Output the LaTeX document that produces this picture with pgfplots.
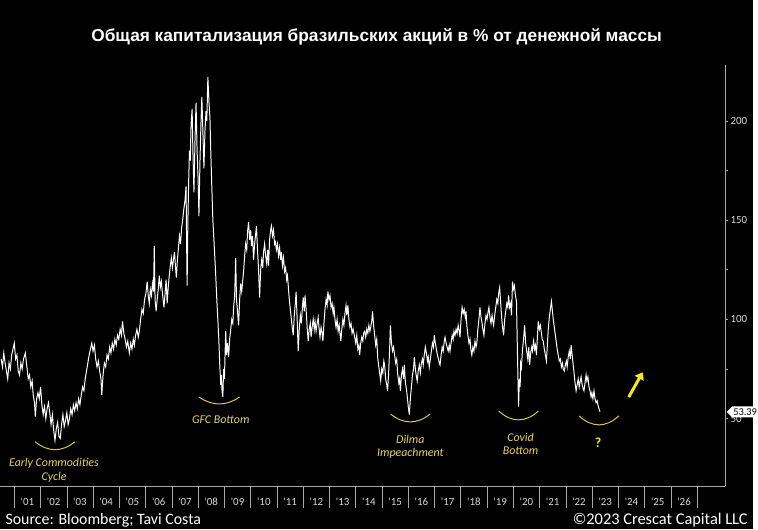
\documentclass[border=0pt]{standalone}
\usepackage{pgfplots}
\pgfplotsset{compat=1.18}
\usepackage{fontspec}
\setmainfont{Carlito}
\newfontfamily\titlefont{Liberation Sans}
\usetikzlibrary{shapes.symbols,arrows.meta}
\definecolor{annot}{HTML}{E3D46A}
\definecolor{arcc}{HTML}{D9C84A}
\definecolor{brightY}{HTML}{F7E81E}
\definecolor{axgray}{HTML}{A8A8A8}
\definecolor{ticklab}{HTML}{D8D8D8}
\begin{document}
\begin{tikzpicture}
\fill[black] (0pt,0pt) rectangle (758pt,533pt);
\begin{axis}[
  at={(0pt,43pt)}, anchor=south west, scale only axis,
  width=730pt, height=425pt,
  xmin=2000.471, xmax=2028.06, ymin=15.85, ymax=228.35,
  axis x line*=bottom, axis y line*=right,
  axis line style={axgray, line width=0.8pt},
  tick align=outside,
  major tick length=3pt,
  minor tick length=22pt,
  /pgf/number format/assume math mode=true,
  xtick={2001.5,2002.5,...,2026.5},
  xticklabels={\textquotesingle01,\textquotesingle02,\textquotesingle03,\textquotesingle04,\textquotesingle05,\textquotesingle06,\textquotesingle07,\textquotesingle08,\textquotesingle09,\textquotesingle10,\textquotesingle11,\textquotesingle12,\textquotesingle13,\textquotesingle14,\textquotesingle15,\textquotesingle16,\textquotesingle17,\textquotesingle18,\textquotesingle19,\textquotesingle20,\textquotesingle21,\textquotesingle22,\textquotesingle23,\textquotesingle24,\textquotesingle25,\textquotesingle26},
  major x tick style={draw=none},
  minor xtick={2001,2002,...,2027},
  minor x tick style={draw=axgray, line width=0.6pt},
  ytick={50,100,150,200},
  minor ytick={},
  extra y ticks={75,125,175},
  extra y tick labels={},
  y tick style={draw=axgray, line width=0.6pt},
  xticklabel style={font=\fontsize{11}{12}\selectfont, text=ticklab, yshift=-8pt, inner sep=1pt},
  yticklabel style={font=\fontsize{11}{12}\selectfont, text=ticklab, xshift=-1pt},
  clip=false,
]
\addplot[white, line width=1pt] coordinates {
(2000.50,80)(2000.55,76)(2000.60,83)(2000.65,78)(2000.70,74)(2000.75,70)(2000.80,78)(2000.85,75)(2000.90,82)(2000.95,85)(2001.00,88)(2001.05,80)(2001.10,82)(2001.15,74)(2001.20,72)(2001.25,78)(2001.30,75)(2001.35,80)(2001.42,83)(2001.48,76)(2001.53,70)(2001.58,72)(2001.63,66)(2001.68,69)(2001.72,62)(2001.77,58)(2001.80,51)(2001.85,60)(2001.90,63)(2001.95,60)(2002.00,66)(2002.05,57)(2002.10,52)(2002.15,56)(2002.20,50)(2002.25,55)(2002.30,58)(2002.35,53)(2002.40,47)(2002.45,52)(2002.50,44)(2002.55,39)(2002.60,45)(2002.65,48)(2002.70,41)(2002.75,40)(2002.80,47)(2002.85,52)(2002.90,46)(2002.95,49)(2003.00,53)(2003.05,47)(2003.10,50)(2003.15,55)(2003.20,52)(2003.25,57)(2003.30,54)(2003.35,58)(2003.40,55)(2003.45,60)(2003.50,57)(2003.55,62)(2003.60,66)(2003.65,64)(2003.70,70)(2003.75,74)(2003.80,78)(2003.85,82)(2003.90,85)(2003.95,88)(2004.00,84)(2004.05,87)(2004.10,80)(2004.15,76)(2004.20,79)(2004.25,74)(2004.30,70)(2004.33,62)(2004.38,72)(2004.43,78)(2004.48,76)(2004.53,82)(2004.58,80)(2004.63,86)(2004.68,83)(2004.73,88)(2004.78,85)(2004.83,90)(2004.88,87)(2004.93,92)(2004.98,90)(2005.03,95)(2005.08,92)(2005.12,99)(2005.17,93)(2005.22,90)(2005.27,86)(2005.32,89)(2005.38,83)(2005.43,88)(2005.48,85)(2005.53,90)(2005.57,87)(2005.62,92)(2005.67,95)(2005.72,91)(2005.76,94)(2005.81,100)(2005.86,105)(2005.91,103)(2005.96,110)(2006.01,113)(2006.06,119)(2006.10,112)(2006.14,108)(2006.18,115)(2006.22,112)(2006.26,118)(2006.30,114)(2006.33,137)(2006.36,110)(2006.40,104)(2006.44,110)(2006.48,115)(2006.52,122)(2006.56,116)(2006.60,119)(2006.65,112)(2006.70,106)(2006.74,113)(2006.78,120)(2006.82,108)(2006.86,116)(2006.90,122)(2006.94,127)(2006.98,131)(2007.02,126)(2007.06,130)(2007.10,134)(2007.14,126)(2007.17,121)(2007.21,130)(2007.25,136)(2007.29,142)(2007.33,138)(2007.37,146)(2007.41,150)(2007.45,155)(2007.50,160)(2007.54,167)(2007.56,140)(2007.58,117)(2007.61,150)(2007.64,170)(2007.67,185)(2007.70,180)(2007.73,198)(2007.77,206)(2007.80,185)(2007.84,164)(2007.88,190)(2007.92,209)(2007.96,185)(2008.00,170)(2008.03,152)(2008.07,180)(2008.11,200)(2008.14,212)(2008.18,195)(2008.22,176)(2008.26,195)(2008.30,205)(2008.33,200)(2008.37,222)(2008.41,210)(2008.45,201)(2008.48,185)(2008.52,167)(2008.56,150)(2008.60,140)(2008.64,130)(2008.67,122)(2008.71,110)(2008.75,100)(2008.79,89)(2008.82,78)(2008.86,67)(2008.88,72)(2008.91,64)(2008.94,61)(2008.97,75)(2009.00,70)(2009.03,85)(2009.05,94)(2009.08,82)(2009.12,88)(2009.16,81)(2009.20,90)(2009.24,95)(2009.28,100)(2009.32,98)(2009.35,106)(2009.39,112)(2009.43,131)(2009.46,110)(2009.50,104)(2009.54,97)(2009.58,110)(2009.62,118)(2009.66,114)(2009.70,120)(2009.73,124)(2009.77,132)(2009.81,138)(2009.85,135)(2009.88,144)(2009.92,149)(2009.96,140)(2010.00,145)(2010.03,137)(2010.07,142)(2010.11,130)(2010.15,138)(2010.19,143)(2010.22,147)(2010.26,135)(2010.30,125)(2010.34,111)(2010.38,125)(2010.42,130)(2010.46,126)(2010.49,134)(2010.53,138)(2010.57,132)(2010.61,128)(2010.65,135)(2010.68,127)(2010.72,140)(2010.76,145)(2010.79,147)(2010.83,142)(2010.87,145)(2010.91,138)(2010.94,139)(2010.98,135)(2011.02,138)(2011.06,132)(2011.10,136)(2011.14,130)(2011.17,134)(2011.21,127)(2011.25,131)(2011.29,124)(2011.33,126)(2011.37,120)(2011.40,122)(2011.43,117)(2011.47,110)(2011.51,105)(2011.55,100)(2011.58,96)(2011.62,92)(2011.66,102)(2011.70,108)(2011.73,114)(2011.77,100)(2011.81,84)(2011.85,95)(2011.89,102)(2011.93,98)(2011.97,106)(2012.00,111)(2012.04,104)(2012.07,112)(2012.11,105)(2012.15,96)(2012.19,89)(2012.23,95)(2012.27,98)(2012.30,91)(2012.34,96)(2012.38,100)(2012.42,95)(2012.45,99)(2012.49,94)(2012.53,98)(2012.57,101)(2012.60,96)(2012.64,91)(2012.68,96)(2012.72,93)(2012.75,89)(2012.79,98)(2012.83,105)(2012.87,110)(2012.91,107)(2012.94,114)(2012.98,110)(2013.02,112)(2013.06,106)(2013.10,108)(2013.14,103)(2013.17,106)(2013.21,100)(2013.25,96)(2013.29,100)(2013.33,94)(2013.37,97)(2013.43,89)(2013.47,95)(2013.51,100)(2013.55,97)(2013.59,103)(2013.63,107)(2013.66,102)(2013.70,107)(2013.74,100)(2013.78,96)(2013.82,98)(2013.86,93)(2013.90,95)(2013.96,91)(2014.00,88)(2014.04,92)(2014.08,85)(2014.12,87)(2014.15,82)(2014.19,88)(2014.23,91)(2014.27,89)(2014.30,93)(2014.34,94)(2014.38,91)(2014.42,95)(2014.46,93)(2014.50,97)(2014.54,94)(2014.57,96)(2014.61,99)(2014.64,104)(2014.68,97)(2014.72,92)(2014.76,87)(2014.80,90)(2014.84,80)(2014.88,76)(2014.92,72)(2014.95,69)(2014.99,75)(2015.03,73)(2015.07,79)(2015.10,77)(2015.14,70)(2015.18,67)(2015.21,64)(2015.25,72)(2015.29,85)(2015.32,97)(2015.36,88)(2015.40,84)(2015.44,86)(2015.48,82)(2015.52,78)(2015.56,80)(2015.60,72)(2015.64,68)(2015.67,70)(2015.70,64)(2015.74,72)(2015.78,75)(2015.82,70)(2015.85,77)(2015.89,68)(2015.93,65)(2015.97,60)(2016.00,56)(2016.04,52)(2016.08,60)(2016.12,66)(2016.16,72)(2016.20,75)(2016.23,81)(2016.27,75)(2016.30,72)(2016.34,69)(2016.38,74)(2016.42,77)(2016.46,73)(2016.50,78)(2016.54,80)(2016.57,77)(2016.61,82)(2016.65,86)(2016.69,83)(2016.73,79)(2016.76,81)(2016.80,76)(2016.84,80)(2016.88,84)(2016.92,88)(2016.96,86)(2016.99,92)(2017.03,88)(2017.07,85)(2017.11,82)(2017.15,80)(2017.18,78)(2017.21,77)(2017.25,82)(2017.29,86)(2017.33,84)(2017.37,89)(2017.40,91)(2017.44,88)(2017.48,86)(2017.52,84)(2017.56,87)(2017.59,84)(2017.63,88)(2017.67,92)(2017.71,90)(2017.74,94)(2017.78,92)(2017.82,95)(2017.86,93)(2017.90,97)(2017.94,94)(2017.97,91)(2018.01,100)(2018.05,106)(2018.09,103)(2018.13,105)(2018.17,101)(2018.20,104)(2018.23,97)(2018.27,92)(2018.31,88)(2018.35,90)(2018.38,85)(2018.42,82)(2018.46,86)(2018.50,84)(2018.54,89)(2018.58,86)(2018.61,88)(2018.65,95)(2018.69,100)(2018.73,106)(2018.77,101)(2018.81,98)(2018.84,95)(2018.88,92)(2018.92,98)(2018.96,102)(2019.00,100)(2019.04,104)(2019.07,106)(2019.11,101)(2019.15,98)(2019.19,102)(2019.22,99)(2019.25,97)(2019.29,102)(2019.33,106)(2019.37,110)(2019.41,108)(2019.44,113)(2019.48,116)(2019.52,108)(2019.56,100)(2019.60,95)(2019.63,92)(2019.67,100)(2019.71,104)(2019.75,108)(2019.79,106)(2019.82,112)(2019.86,106)(2019.90,108)(2019.93,102)(2019.97,119)(2020.00,115)(2020.04,117)(2020.08,112)(2020.12,109)(2020.14,95)(2020.16,81)(2020.18,68)(2020.20,56)(2020.23,70)(2020.26,66)(2020.28,78)(2020.31,76)(2020.35,85)(2020.39,90)(2020.43,97)(2020.47,88)(2020.51,84)(2020.55,80)(2020.59,86)(2020.62,77)(2020.66,83)(2020.70,86)(2020.73,84)(2020.77,89)(2020.81,85)(2020.84,87)(2020.88,82)(2020.92,92)(2020.95,99)(2020.99,95)(2021.03,97)(2021.07,93)(2021.10,90)(2021.14,89)(2021.18,85)(2021.22,82)(2021.26,79)(2021.30,88)(2021.33,95)(2021.37,101)(2021.41,105)(2021.45,109)(2021.49,104)(2021.52,100)(2021.56,96)(2021.60,92)(2021.64,88)(2021.67,85)(2021.71,82)(2021.75,79)(2021.79,80)(2021.83,76)(2021.87,78)(2021.90,75)(2021.94,74)(2021.98,77)(2022.02,79)(2022.05,76)(2022.09,81)(2022.13,84)(2022.17,80)(2022.20,87)(2022.24,82)(2022.28,77)(2022.32,72)(2022.35,68)(2022.39,64)(2022.43,67)(2022.47,70)(2022.51,66)(2022.55,69)(2022.58,71)(2022.62,67)(2022.66,65)(2022.69,64)(2022.73,68)(2022.77,72)(2022.80,69)(2022.84,71)(2022.88,66)(2022.92,64)(2022.96,61)(2022.99,63)(2023.03,60)(2023.07,64)(2023.11,60)(2023.15,58)(2023.19,59)(2023.22,57)(2023.26,55)(2023.30,53.39)
};
\coordinate (lab) at (axis cs:2028.06,53.39);
\end{axis}
% last value label
\node[signal, signal to=west, fill=white, text=black, inner sep=1pt, anchor=west,
      font=\fontsize{10.5}{11}\selectfont, minimum height=11pt] at ([xshift=1.5pt]lab) {53.39};
% title
\node[text=white, font=\titlefont\bfseries\fontsize{17.4}{19}\selectfont] at (379pt,496pt)
  {Общая капитализация бразильских акций в \% от денежной массы};
% footer
\node[text=white, anchor=west, font=\fontsize{16}{17}\selectfont, inner sep=1pt] at (4pt,9pt) {Source: Bloomberg; Tavi Costa};
\node[text=white, anchor=east, font=\fontsize{16.5}{17}\selectfont, inner sep=1pt] at (754pt,9pt) {©2023 Crescat Capital LLC};
% annotation arcs
\draw[arcc, line width=1pt] (35pt,88pt) .. controls (48pt,77.3pt) and (62pt,77.3pt) .. (75pt,88pt);
\draw[arcc, line width=1pt] (200pt,133pt) .. controls (214pt,123.7pt) and (227pt,123.7pt) .. (241pt,133pt);
\draw[arcc, line width=1pt] (393pt,116pt) .. controls (406pt,105.3pt) and (420pt,105.3pt) .. (433pt,116pt);
\draw[arcc, line width=1pt] (502pt,119pt) .. controls (515pt,107pt) and (529pt,107pt) .. (542pt,119pt);
\draw[arcc, line width=1pt] (583pt,114pt) .. controls (596pt,102pt) and (610pt,102pt) .. (623pt,114pt);
% annotation texts
\begin{scope}[every node/.style={text=annot, font=\itshape\fontsize{12}{13.5}\selectfont, align=center}]
\node at (54pt,59pt) {Early Commodities\\Cycle};
\node at (222pt,110pt) {GFC Bottom};
\node at (413pt,83pt) {Dilma\\Impeachment};
\node at (524pt,86pt) {Covid\\Bottom};
\end{scope}
\node[text=brightY, font=\bfseries\fontsize{14}{15}\selectfont] at (602pt,87pt) {?};
\draw[brightY, line width=3pt, -{Triangle[length=7pt,width=10pt]}] (633pt,133pt) -- (647pt,158pt);
\end{tikzpicture}
\end{document}
